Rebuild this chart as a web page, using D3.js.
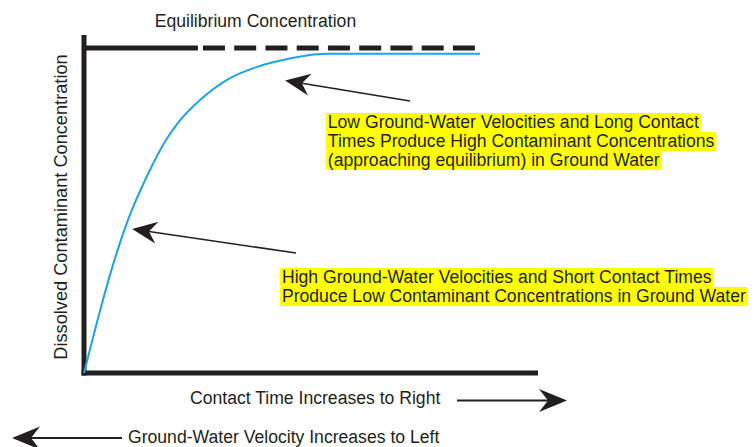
<!DOCTYPE html>
<html lang="en">
<head>
<meta charset="UTF-8">
<title>Contact time vs dissolved contaminant concentration</title>
<script src="https://d3js.org/d3.v7.min.js"></script>
<style>
    body { margin: 0; background: #fff; }
    text { font-family: "Liberation Sans", Arial, sans-serif; fill: #231f20; }
</style>
</head>
<body>
<div id="chart"></div>
<script>
    const width = 754;
    const height = 447;

    // curve (relative contact time, fraction of equilibrium)
    const contactTime = [0, 0.352, 0.573, 0.969, 1.388, 1.806, 2.048, 2.555, 3.150, 3.811, 4.383, 5.352, 8.722];
    const concentration = [0, 0.191, 0.302, 0.471, 0.606, 0.717, 0.766, 0.840, 0.902, 0.942, 0.963, 0.982, 0.982];

    const equilibrium = 1;
    const equilibriumSolidTo = 2.51;
    const equilibriumDashFrom = 2.62;
    const equilibriumDashTo = 8.61;

    const titleText = "Equilibrium Concentration";
    const yLabel = "Dissolved Contaminant Concentration";
    const xLabel = "Contact Time Increases to Right";
    const velocityLabel = "Ground-Water Velocity Increases to Left";

    const noteLow = ["Low Ground-Water Velocities and Long Contact",
        "Times Produce High Contaminant Concentrations",
        "(approaching equilibrium) in Ground Water"];
    const noteHigh = ["High Ground-Water Velocities and Short Contact Times",
        "Produce Low Contaminant Concentrations in Ground Water"];

    // annotation arrows in data units: tail -> tip
    const arrowLow = { tail: [7.18, 0.837], tip: [4.43, 0.90] };
    const arrowHigh = { tail: [4.67, 0.369], tip: [1.06, 0.443] };
    const noteLowAt = [5.37, 0.754];
    const noteHighAt = [4.36, 0.277];

    const x = d3.scaleLinear().domain([0, 10]).range([84, 538]);
    const y = d3.scaleLinear().domain([0, 1.04]).range([373, 35]);

    const ink = "#231f20";
    const fontSize = 17.6;

    const svg = d3.select("#chart").append("svg")
        .attr("width", width)
        .attr("height", height)
        .attr("viewBox", [0, 0, width, height]);

    function arrowHead(g, tip, tail, len, half, notch) {
        const dx = tip[0] - tail[0], dy = tip[1] - tail[1];
        const d = Math.hypot(dx, dy);
        const ux = dx / d, uy = dy / d;
        const px = -uy, py = ux;
        const bx = tip[0] - ux * len, by = tip[1] - uy * len;
        const pts = [
            tip,
            [bx + px * half, by + py * half],
            [tip[0] - ux * (len - notch), tip[1] - uy * (len - notch)],
            [bx - px * half, by - py * half]
        ];
        g.append("path")
            .attr("d", "M" + pts.join("L") + "Z")
            .attr("fill", ink);
        return [tip[0] - ux * (len - notch), tip[1] - uy * (len - notch)];
    }

    function arrow(tail, tip, len, half, notch, w) {
        const g = svg.append("g");
        const base = arrowHead(g, tip, tail, len, half, notch);
        g.insert("line", "path")
            .attr("x1", tail[0]).attr("y1", tail[1])
            .attr("x2", base[0]).attr("y2", base[1])
            .attr("stroke", ink)
            .attr("stroke-width", w);
    }

    // equilibrium line
    svg.append("line")
        .attr("x1", x(0)).attr("x2", x(equilibriumSolidTo))
        .attr("y1", y(equilibrium)).attr("y2", y(equilibrium))
        .attr("stroke", ink).attr("stroke-width", 5);
    svg.append("line")
        .attr("x1", x(equilibriumDashFrom)).attr("x2", x(equilibriumDashTo))
        .attr("y1", y(equilibrium)).attr("y2", y(equilibrium))
        .attr("stroke", ink).attr("stroke-width", 5)
        .attr("stroke-dasharray", "22,9.25");

    // axes
    svg.append("line")
        .attr("x1", x(0)).attr("x2", x(0))
        .attr("y1", y(1.04)).attr("y2", y(0) + 2.5)
        .attr("stroke", ink).attr("stroke-width", 5);
    svg.append("line")
        .attr("x1", x(0) - 2.5).attr("x2", x(10))
        .attr("y1", y(0)).attr("y2", y(0))
        .attr("stroke", ink).attr("stroke-width", 5);

    // curve
    const line = d3.line()
        .x((d, i) => x(contactTime[i]))
        .y(d => y(d))
        .curve(d3.curveMonotoneX);

    svg.append("path")
        .datum(concentration)
        .attr("d", line)
        .attr("fill", "none")
        .attr("stroke", "#1fa3e0")
        .attr("stroke-width", 2);

    // titles
    svg.append("text")
        .attr("x", (x(0) + x(equilibriumDashTo)) / 2 - 24)
        .attr("y", 27)
        .attr("text-anchor", "middle")
        .attr("font-size", fontSize)
        .text(titleText);

    svg.append("text")
        .attr("transform", `translate(67,${(y(0) + y(1.04)) / 2 + 3}) rotate(-90)`)
        .attr("text-anchor", "middle")
        .attr("font-size", 18.2)
        .text(yLabel);

    svg.append("text")
        .attr("x", 190)
        .attr("y", 404)
        .attr("font-size", fontSize)
        .text(xLabel);
    arrow([457, 400.5], [567, 400.5], 28, 11.5, 9, 2);

    svg.append("text")
        .attr("x", 128)
        .attr("y", 443)
        .attr("font-size", fontSize)
        .text(velocityLabel);
    arrow([122, 438], [12, 438], 28, 11.5, 9, 2);

    // annotations
    function note(lines, at, lh) {
        const g = svg.append("g");
        const x0 = x(at[0]), y0 = y(at[1]);
        const texts = g.selectAll("text")
            .data(lines)
            .join("text")
            .attr("x", x0)
            .attr("y", (d, i) => y0 + i * lh)
            .attr("font-size", fontSize)
            .text(d => d);
        texts.each(function (d, i) {
            const w = this.getComputedTextLength();
            g.insert("rect", "text")
                .attr("x", x0 - 2)
                .attr("y", y0 + i * lh - 15)
                .attr("width", w + 4)
                .attr("height", lh)
                .attr("rx", 2)
                .attr("fill", "#ffff00");
        });
    }

    note(noteLow, noteLowAt, 19);
    note(noteHigh, noteHighAt, 19);

    arrow([x(arrowLow.tail[0]), y(arrowLow.tail[1])], [x(arrowLow.tip[0]), y(arrowLow.tip[1])], 25, 11, 8, 1.6);
    arrow([x(arrowHigh.tail[0]), y(arrowHigh.tail[1])], [x(arrowHigh.tip[0]), y(arrowHigh.tip[1])], 25, 11, 8, 1.6);
</script>
</body>
</html>
